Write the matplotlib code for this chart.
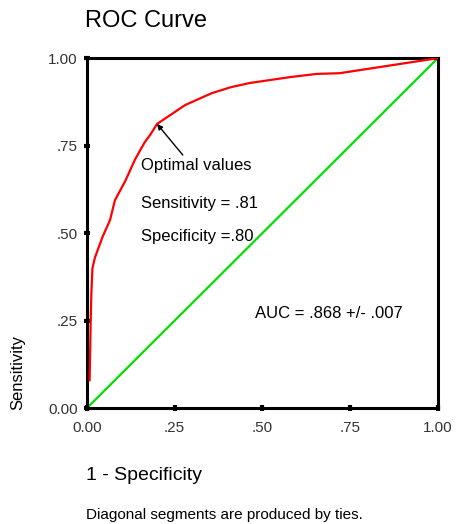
import numpy as np
import matplotlib.pyplot as plt

plt.rcParams['font.family'] = ['Liberation Sans', 'DejaVu Sans']

# ROC curve points (1 - specificity, sensitivity)
fpr = [0.008, 0.011, 0.013, 0.016, 0.023, 0.045, 0.066, 0.08, 0.11, 0.137, 0.165, 0.18, 0.20,
       0.28, 0.356, 0.41, 0.464, 0.58, 0.655, 0.72, 1.0]
tpr = [0.08, 0.25, 0.33, 0.40, 0.43, 0.49, 0.537, 0.594, 0.65, 0.71, 0.76, 0.78, 0.812,
       0.866, 0.90, 0.917, 0.929, 0.946, 0.955, 0.957, 1.0]
ref_line = [0.0, 1.0]
ticks = [0.0, 0.25, 0.5, 0.75, 1.0]
tick_labels = ['0.00', '.25', '.50', '.75', '1.00']
opt_point = (0.20, 0.812)
auc_text = 'AUC = .868 +/- .007'

fig = plt.figure(figsize=(4.57, 5.24), dpi=100)
ax = fig.add_axes([0.190, 0.221, 0.768, 0.668])

ax.plot(ref_line, ref_line, color='#00e000', lw=1.6, zorder=2)
ax.plot(fpr, tpr, color='#ff0000', lw=1.6, zorder=3)

ax.set_xlim(0, 1)
ax.set_ylim(0, 1)
ax.set_xticks(ticks)
ax.set_xticklabels(tick_labels)
ax.set_yticks(ticks)
ax.set_yticklabels(tick_labels)
ax.tick_params(direction='inout', length=5, width=3, labelsize=11,
               labelcolor='#333333')
ax.tick_params(axis='x', pad=7)
ax.tick_params(axis='y', pad=4)
for s in ax.spines.values():
    s.set_linewidth(2.2)

ax.annotate('Optimal values', xy=opt_point, xytext=(0.154, 0.694),
            fontsize=12, va='center', ha='left',
            arrowprops=dict(arrowstyle='-|>', color='black', lw=1,
                            mutation_scale=8, shrinkA=0, shrinkB=0,
                            relpos=(0.4, 1.0)))
ax.text(0.154, 0.586, 'Sensitivity = .81', fontsize=12, va='center')
ax.text(0.154, 0.491, 'Specificity =.80', fontsize=12, va='center')
ax.text(0.479, 0.271, auc_text, fontsize=12, va='center')

fig.text(0.186, 0.960, 'ROC Curve', fontsize=17, va='center', ha='left')
fig.text(0.040, 0.218, 'Sensitivity', fontsize=12, rotation=90,
         va='bottom', ha='center')
fig.text(0.188, 0.093, '1 - Specificity', fontsize=14, va='center', ha='left')
fig.text(0.188, 0.017, 'Diagonal segments are produced by ties.', fontsize=11,
         va='center', ha='left')

fig.savefig('out.png', dpi=100)
